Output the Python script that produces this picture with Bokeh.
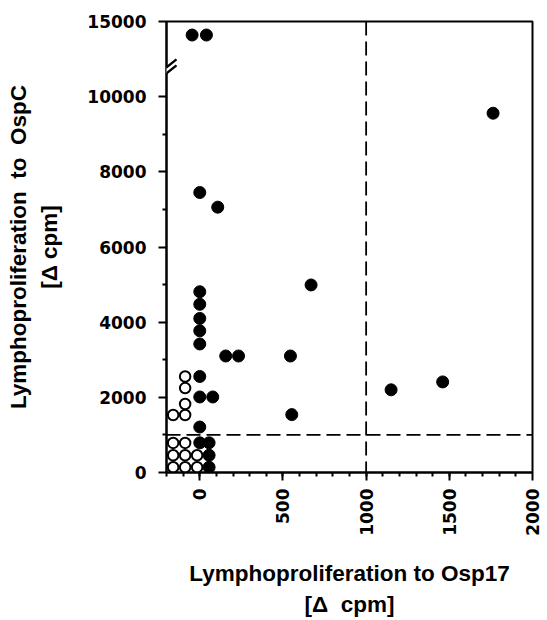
import numpy as np
from bokeh.plotting import figure
from bokeh.models import FixedTicker, Span, Arrow, Range1d
from bokeh.embed import file_html
from bokeh.resources import INLINE

# ---- data ----
open_x = [-160, -88, -160, -88, -16, -160, -88, -16, -160, -88, -88, -88, -88]
open_y = [788, 788, 460, 460, 460, 141, 141, 141, 1530, 1530, 1822, 2247, 2555]

filled_x = [-46, 40, 1763, 0, 108, 0, 0, 0, 0, 0, 0, 0, 0, 0,
            78, 56, 56, 56, 156, 233, 545, 553, 669, 1150, 1460]
filled_y = [14100, 14100, 9560, 7450, 7060, 4810, 4475, 4100, 3770, 3420, 2555, 2010, 1210, 790,
            2010, 790, 460, 141, 3100, 3100, 3100, 1540, 4990, 2200, 2410]

x_ticks = [0, 500, 1000, 1500, 2000]
x_minor = list(range(-200, 2000, 100))
y_ticks = [0, 2000, 4000, 6000, 8000, 10000, 15000]
y_minor = [1000, 3000, 5000, 7000, 9000]
x_threshold = 1000
y_threshold = 1000

# broken y axis: above 10000 the scale is compressed (5000 units shown as 2000)
BREAK_LOW = 10000
BREAK_SCALE = 2000 / 5000
BREAK_MARK_AT = 10700


def ty(v):
    return v if v <= BREAK_LOW else BREAK_LOW + (v - BREAK_LOW) * BREAK_SCALE


X0, X1 = -200, 2000
Y1 = ty(15000)

W, H = 547, 620
ML, MR, MT, MB = 166, 15, 21, 147

p = figure(width=W, height=H, x_range=Range1d(X0, X1), y_range=Range1d(0, Y1),
           output_backend="svg", toolbar_location=None,
           min_border_left=ML, min_border_right=MR, min_border_top=MT, min_border_bottom=MB)
p.grid.visible = False
p.outline_line_color = "black"
p.outline_line_width = 2
p.background_fill_color = "white"
p.border_fill_color = "white"

tick_font = "DejaVu Sans"
title_font = "Liberation Sans"

for ax in (p.xaxis[0], p.yaxis[0]):
    ax.axis_line_width = 2
    ax.axis_line_color = "black"
    ax.major_tick_line_width = 2
    ax.minor_tick_line_width = 2
    ax.major_tick_in = 0
    ax.major_tick_out = 8
    ax.minor_tick_in = 0
    ax.minor_tick_out = 4
    ax.major_label_text_font = tick_font
    ax.major_label_text_font_style = "bold"
    ax.major_label_text_font_size = "17px"
    ax.major_label_text_color = "black"
    ax.axis_label_text_font = title_font
    ax.axis_label_text_font_style = "bold"
    ax.axis_label_text_font_size = "22.5px"
    ax.axis_label_text_color = "black"
    ax.axis_label_text_line_height = 1.25

p.xaxis.ticker = FixedTicker(ticks=x_ticks, minor_ticks=x_minor)
p.xaxis.major_label_orientation = np.pi / 2
p.xaxis.major_label_standoff = 8
p.xaxis.axis_label = "Lymphoproliferation to Osp17\n[\u0394 \u00a0cpm]"
p.xaxis.axis_label_standoff = 22

p.yaxis.ticker = FixedTicker(ticks=[ty(v) for v in y_ticks], minor_ticks=y_minor)
p.yaxis.major_label_overrides = {int(ty(v)): str(v) for v in y_ticks}
p.yaxis.major_label_standoff = 12
p.yaxis.axis_label = "Lymphoproliferation \u00a0to \u00a0OspC\n[\u0394 cpm]"
p.yaxis.axis_label_standoff = 22

# threshold lines
p.add_layout(Span(location=x_threshold, dimension="height", line_color="black",
                  line_width=1.8, line_dash="14 6"))
p.add_layout(Span(location=y_threshold, dimension="width", line_color="black",
                  line_width=1.8, line_dash="14 6"))

# points
p.scatter(filled_x, [ty(v) for v in filled_y], size=12,
          fill_color="black", line_color="black", line_width=1)
p.scatter(open_x, [ty(v) for v in open_y], size=10.5,
          fill_color="white", line_color="black", line_width=2)

# axis-break mark ("//") on the y axis
ux = (X1 - X0) / (W - ML - MR)
uy = Y1 / (H - MT - MB)
p.add_layout(Arrow(end=None, x_start=X0, y_start=BREAK_MARK_AT - 3 * uy,
                   x_end=X0, y_end=BREAK_MARK_AT + 3 * uy,
                   line_color="white", line_width=5))
for off in (-3, 3):
    p.add_layout(Arrow(end=None,
                       x_start=X0 - 10 * ux, y_start=BREAK_MARK_AT + (off - 8) * uy,
                       x_end=X0 + 10 * ux, y_end=BREAK_MARK_AT + (off + 8) * uy,
                       line_color="black", line_width=2.5))

open("out.html", "w").write(file_html(p, INLINE))
